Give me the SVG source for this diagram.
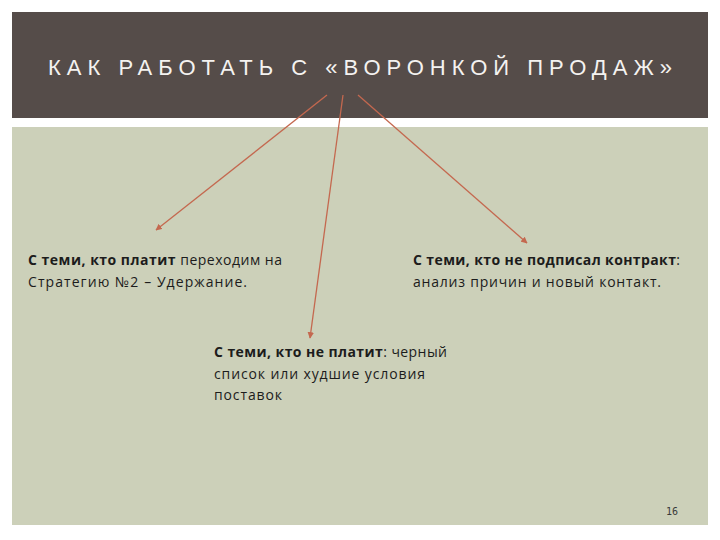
<svg xmlns="http://www.w3.org/2000/svg" width="720" height="540" viewBox="0 0 720 540">
<defs>
<style>
.t{font-family:"Open Sans","Liberation Sans",sans-serif;font-size:14px;fill:#1c1c1c}
.b{font-weight:bold}
.title{font-family:"Liberation Sans",Arial,sans-serif;font-size:22px;fill:#f4f2f0}
.c{stroke:#c4684f;stroke-width:1.3;fill:none;marker-end:url(#ah)}
</style>
<marker id="ah" viewBox="0 0 10 10" refX="9" refY="5" markerWidth="5" markerHeight="5" orient="auto">
<path d="M0,0 L10,5 L0,10 z" fill="#c4684f"/>
</marker>
</defs>
<rect width="720" height="540" fill="#ffffff"/>
<g id="header">
<rect x="12" y="12" width="696" height="106" fill="#554c49"/>
<text class="title" x="48" y="75" textLength="624" lengthAdjust="spacing">КАК РАБОТАТЬ С «ВОРОНКОЙ ПРОДАЖ»</text>
</g>
<rect x="12" y="127" width="696" height="398" fill="#ccd0b9"/>
<g id="connectors">
<line class="c" x1="327" y1="95" x2="156" y2="230"/>
<line class="c" x1="343" y1="95" x2="310" y2="338"/>
<line class="c" x1="358" y1="95" x2="527" y2="243"/>
</g>
<g id="node-pay">
<text class="t" x="28" y="265" textLength="254" lengthAdjust="spacing"><tspan class="b">С теми, кто платит</tspan> переходим на</text>
<text class="t" x="28" y="287" textLength="219" lengthAdjust="spacing">Стратегию №2 – Удержание.</text>
</g>
<g id="node-nosign">
<text class="t" x="413" y="265" textLength="267" lengthAdjust="spacing"><tspan class="b">С теми, кто не подписал контракт</tspan>:</text>
<text class="t" x="413" y="287" textLength="248" lengthAdjust="spacing">анализ причин и новый контакт.</text>
</g>
<g id="node-nopay">
<text class="t" x="214" y="357" textLength="233" lengthAdjust="spacing"><tspan class="b">С теми, кто не платит</tspan>: черный</text>
<text class="t" x="214" y="379" textLength="211" lengthAdjust="spacing">список или худшие условия</text>
<text class="t" x="214" y="400" textLength="68" lengthAdjust="spacing">поставок</text>
</g>
<text x="666" y="515" font-family="'DejaVu Sans Mono','Liberation Mono',monospace" font-size="10" fill="#3a3a3a">16</text>
</svg>
